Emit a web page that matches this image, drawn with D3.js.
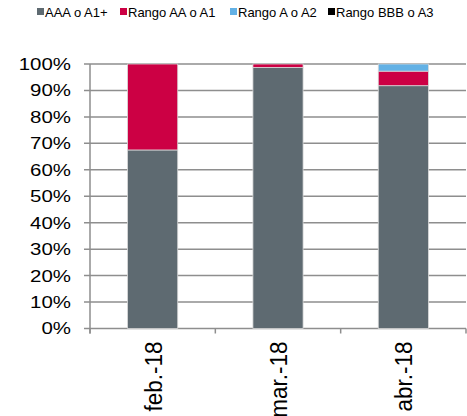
<!DOCTYPE html>
<meta charset="utf-8">
<head>
    <title>Calificaciones</title>
    <script src="https://cdn.jsdelivr.net/npm/d3@7"></script>
    <style>
        body { margin: 0; background: #fff; }
        text { font-family: "Liberation Sans", Arial, sans-serif; fill: #000; }
    </style>
</head>
<body>
<div id="chart"></div>
<script>
    // data
    var months = ["feb.-18", "mar.-18", "abr.-18"];
    var series = ["AAA o A1+", "Rango AA o A1", "Rango A o A2", "Rango BBB o A3"];
    var colors = ["#5e6a71", "#cc0044", "#63b1e5", "#000000"];
    var aaa = [0.675, 0.987, 0.918];
    var aa  = [0.325, 0.013, 0.055];
    var aA2 = [0, 0, 0.027];
    var bbb = [0, 0, 0];
    var yTicks = [0, 0.1, 0.2, 0.3, 0.4, 0.5, 0.6, 0.7, 0.8, 0.9, 1];

    var w = 467, h = 416;
    // plot box (note: "top" is a reserved window property, so prefix names)
    var plotL = 90, plotR = 466, plotT = 64, plotB = 328.5;

    var svg = d3.select("#chart").append("svg")
        .attr("width", w).attr("height", h);

    var rows = months.map(function (m, i) {
        var r = { month: m };
        r[series[0]] = aaa[i];
        r[series[1]] = aa[i];
        r[series[2]] = aA2[i];
        r[series[3]] = bbb[i];
        return r;
    });
    var stacked = d3.stack().keys(series)(rows);

    var x = d3.scaleBand().domain(months).range([plotL, plotR]).paddingInner(0.6).paddingOuter(0.3);
    var xEdge = d3.scaleLinear().domain([0, months.length]).range([plotL, plotR]);
    var y = d3.scaleLinear().domain([0, 1]).range([plotB, plotT]);
    var color = d3.scaleOrdinal().domain(series).range(colors);

    // gridlines
    svg.append("g")
        .selectAll("line")
        .data(yTicks)
        .enter().append("line")
        .attr("x1", plotL - 6).attr("x2", plotR)
        .attr("y1", function (d) { return y(d); })
        .attr("y2", function (d) { return y(d); })
        .attr("stroke", "#8e8e8e")
        .attr("stroke-width", 1.5);

    // y axis labels (the original looks a bit stretched sideways)
    svg.append("g")
        .selectAll("text")
        .data(yTicks)
        .enter().append("text")
        .attr("transform", function (d) {
            return "translate(" + (plotL - 19) + "," + y(d) + ") scale(1.24,1)";
        })
        .attr("dy", "0.36em")
        .attr("text-anchor", "end")
        .style("font-size", "16.5px")
        .text(d3.format(".0%"));

    // bars
    svg.append("g")
        .selectAll("g")
        .data(stacked)
        .enter().append("g")
        .attr("fill", function (d) { return color(d.key); })
        .selectAll("rect")
        .data(function (d) { return d; })
        .enter().append("rect")
        .attr("x", function (d) { return x(d.data.month); })
        .attr("width", x.bandwidth())
        .attr("y", function (d) { return y(d[1]); })
        .attr("height", function (d) { return y(d[0]) - y(d[1]); })
        .attr("stroke", "#d8d8d8")
        .attr("stroke-width", function (d) { return d[1] - d[0] > 0 ? 0.8 : 0; });

    // axes lines
    svg.append("line")
        .attr("x1", plotL).attr("x2", plotL)
        .attr("y1", plotT).attr("y2", plotB + 5)
        .attr("stroke", "#8e8e8e").attr("stroke-width", 1.5);
    svg.append("g")
        .selectAll("line")
        .data(d3.range(months.length + 1))
        .enter().append("line")
        .attr("x1", function (d) { return xEdge(d); })
        .attr("x2", function (d) { return xEdge(d); })
        .attr("y1", plotB).attr("y2", plotB + 5)
        .attr("stroke", "#8e8e8e").attr("stroke-width", 1.5);

    // category labels, rotated
    svg.append("g")
        .selectAll("text")
        .data(months)
        .enter().append("text")
        .attr("transform", function (d) {
            return "translate(" + (x(d) + x.bandwidth() / 2) + "," + (plotB + 13) + ") rotate(-90) scale(1,1.1)";
        })
        .attr("dy", "0.36em")
        .attr("text-anchor", "end")
        .style("font-size", "22.5px")
        .text(function (d) { return d; });

    // legend
    var legendX = [37, 120, 230, 328];
    var legend = svg.append("g")
        .selectAll("g")
        .data(series)
        .enter().append("g")
        .attr("transform", function (d, i) { return "translate(" + legendX[i] + ",12)"; });
    legend.append("rect")
        .attr("x", 0).attr("y", -4)
        .attr("width", 7).attr("height", 7)
        .attr("fill", function (d) { return color(d); });
    legend.append("text")
        .attr("x", 8)
        .attr("dy", "0.36em")
        .style("font-size", "13px")
        .text(function (d) { return d; });
</script>
</body>
